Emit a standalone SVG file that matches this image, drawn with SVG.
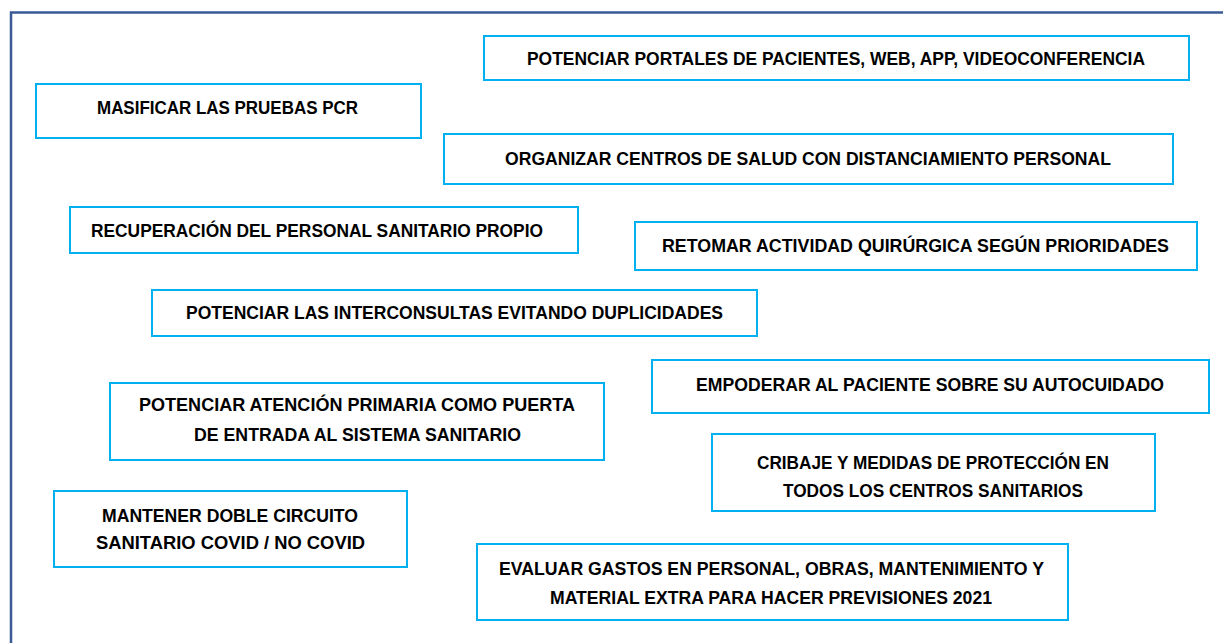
<svg xmlns="http://www.w3.org/2000/svg" width="1223" height="643" viewBox="0 0 1223 643">
<style>
.box{fill:#ffffff;stroke:#00B0F0;stroke-width:2}
.t{font-family:"Liberation Sans",Arial,sans-serif;font-weight:bold;font-size:18px;fill:#000000}
.frame{fill:none;stroke:#3A5A96;stroke-width:2.5}
</style>
<rect width="1223" height="643" fill="#ffffff"/>
<path class="frame" d="M11,650 V12.5 H1230"/>
<g id="connectors"></g>
<g id="n1"><rect class="box" x="484" y="36" width="705" height="44"/><text class="t" x="527" y="65" textLength="618" lengthAdjust="spacingAndGlyphs">POTENCIAR PORTALES DE PACIENTES, WEB, APP, VIDEOCONFERENCIA</text></g>
<g id="n2"><rect class="box" x="36" y="84" width="385" height="54"/><text class="t" x="97" y="114" textLength="261" lengthAdjust="spacingAndGlyphs">MASIFICAR LAS PRUEBAS PCR</text></g>
<g id="n3"><rect class="box" x="444" y="134" width="729" height="50"/><text class="t" x="505" y="165" textLength="606" lengthAdjust="spacingAndGlyphs">ORGANIZAR CENTROS DE SALUD CON DISTANCIAMIENTO PERSONAL</text></g>
<g id="n4"><rect class="box" x="70" y="207" width="508" height="46"/><text class="t" x="91" y="237" textLength="452" lengthAdjust="spacingAndGlyphs">RECUPERACIÓN DEL PERSONAL SANITARIO PROPIO</text></g>
<g id="n5"><rect class="box" x="635" y="222" width="562" height="48"/><text class="t" x="662" y="252" textLength="507" lengthAdjust="spacingAndGlyphs">RETOMAR ACTIVIDAD QUIRÚRGICA SEGÚN PRIORIDADES</text></g>
<g id="n6"><rect class="box" x="152" y="290" width="605" height="46"/><text class="t" x="186" y="319" textLength="537" lengthAdjust="spacingAndGlyphs">POTENCIAR LAS INTERCONSULTAS EVITANDO DUPLICIDADES</text></g>
<g id="n7"><rect class="box" x="652" y="360" width="557" height="53"/><text class="t" x="696" y="391" textLength="468" lengthAdjust="spacingAndGlyphs">EMPODERAR AL PACIENTE SOBRE SU AUTOCUIDADO</text></g>
<g id="n8"><rect class="box" x="110" y="383" width="494" height="77"/><text class="t" x="139" y="411" textLength="436" lengthAdjust="spacingAndGlyphs">POTENCIAR ATENCIÓN PRIMARIA COMO PUERTA</text><text class="t" x="194" y="441" textLength="327" lengthAdjust="spacingAndGlyphs">DE ENTRADA AL SISTEMA SANITARIO</text></g>
<g id="n9"><rect class="box" x="712" y="434" width="443" height="77"/><text class="t" x="757" y="469" textLength="352" lengthAdjust="spacingAndGlyphs">CRIBAJE Y MEDIDAS DE PROTECCIÓN EN</text><text class="t" x="783" y="497" textLength="300" lengthAdjust="spacingAndGlyphs">TODOS LOS CENTROS SANITARIOS</text></g>
<g id="n10"><rect class="box" x="54" y="491" width="353" height="76"/><text class="t" x="102" y="522" textLength="256" lengthAdjust="spacingAndGlyphs">MANTENER DOBLE CIRCUITO</text><text class="t" x="96" y="549" textLength="269" lengthAdjust="spacingAndGlyphs">SANITARIO COVID / NO COVID</text></g>
<g id="n11"><rect class="box" x="477" y="544" width="591" height="76"/><text class="t" x="499" y="575" textLength="545" lengthAdjust="spacingAndGlyphs">EVALUAR GASTOS EN PERSONAL, OBRAS, MANTENIMIENTO Y</text><text class="t" x="550" y="604" textLength="442" lengthAdjust="spacingAndGlyphs">MATERIAL EXTRA PARA HACER PREVISIONES 2021</text></g>
</svg>
